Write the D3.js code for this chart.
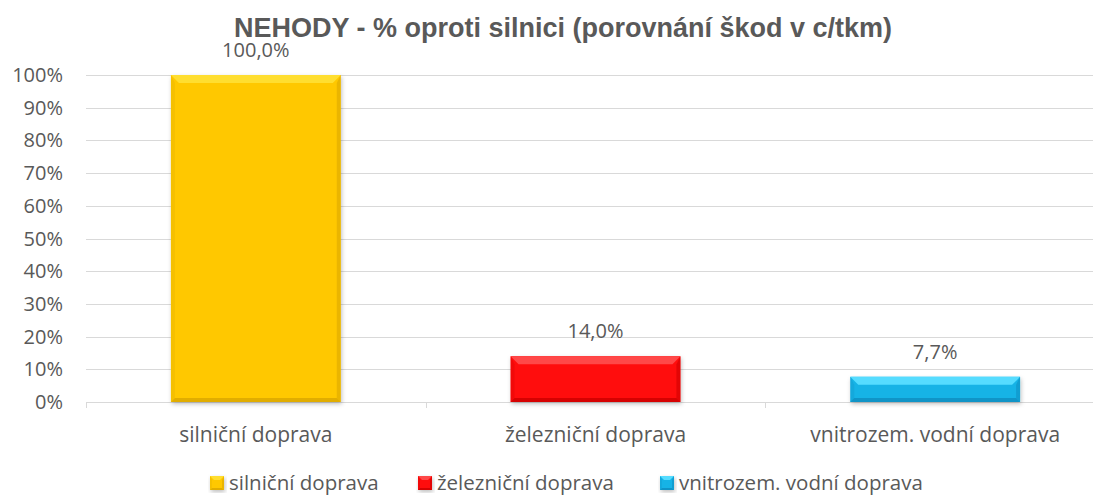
<!DOCTYPE html>
<html lang="cs">
<head>
<meta charset="utf-8">
<title>Nehody</title>
<script src="https://d3js.org/d3.v7.min.js"></script>
<style>
    body { margin: 0; background: white; }
    text { font-family: 'Open Sans', sans-serif; fill: #595959; }
    .title { font-family: 'Liberation Sans', Arial, sans-serif; font-weight: bold; font-size: 27px; }
    .grid line { stroke: #d9d9d9; stroke-width: 1; }
</style>
</head>
<body>
<div id="container"></div>
<script>
// data
var categories = ["silniční doprava", "železniční doprava", "vnitrozem. vodní doprava"];
var values = [100.0, 14.0, 7.7];
var valueLabels = ["100,0%", "14,0%", "7,7%"];
var yTicks = [0, 10, 20, 30, 40, 50, 60, 70, 80, 90, 100];
// body / light edge / dark edge
var barColors = [
  ["#ffc800", "#ffde30", "#d9a600"],
  ["#ff0808", "#ff4848", "#cc0000"],
  ["#19b3e6", "#55dcff", "#0f8cbf"]
];

var w = 1093, h = 496;
var svg = d3.select("div#container").append("svg")
    .attr("width", w).attr("height", h);

var mLeft = 86, mRight = 1105, mTop = 75, mBottom = 402;

var x = d3.scaleBand().domain(categories).range([mLeft, mRight]).paddingInner(0.5).paddingOuter(0.25);
var xb = d3.scaleBand().domain(categories).range([mLeft, mRight]); // full bands for ticks
var y = d3.scaleLinear().domain([0, 100]).range([mBottom, mTop]);

// title
svg.append("text").attr("class", "title")
  .attr("x", 563).attr("y", 37).attr("text-anchor", "middle")
  .text("NEHODY - % oproti silnici (porovnání škod v c/tkm)");

// grid
var grid = svg.append("g").attr("class", "grid");
grid.selectAll("line").data(yTicks.slice(1)).enter().append("line")
  .attr("x1", mLeft).attr("x2", w)
  .attr("y1", function(d){ return Math.round(y(d)) + 0.5; })
  .attr("y2", function(d){ return Math.round(y(d)) + 0.5; });

// y labels
svg.selectAll(".ylab").data(yTicks).enter().append("text")
  .attr("class", "ylab")
  .attr("x", 63).attr("y", function(d){ return y(d) + 7; })
  .attr("text-anchor", "end").style("font-size", "20px")
  .text(function(d){ return d + "%"; });

// x axis line + ticks
svg.append("line").attr("x1", mLeft).attr("x2", w)
  .attr("y1", mBottom + 0.5).attr("y2", mBottom + 0.5)
  .attr("stroke", "#d9d9d9");
svg.selectAll(".xtick").data(categories).enter().append("line")
  .attr("x1", function(d){ return Math.round(xb(d)) + 0.5; })
  .attr("x2", function(d){ return Math.round(xb(d)) + 0.5; })
  .attr("y1", mBottom).attr("y2", mBottom + 6)
  .attr("stroke", "#d9d9d9");

svg.selectAll(".xlab").data(categories).enter().append("text")
  .attr("x", function(d){ return x(d) + x.bandwidth() / 2; })
  .attr("y", 442).attr("text-anchor", "middle").style("font-size", "21px")
  .text(function(d){ return d; });

// shadow filter
var defs = svg.append("defs");
var f = defs.append("filter").attr("id", "sh").attr("x", "-10%").attr("y", "-10%").attr("width", "130%").attr("height", "130%");
f.append("feDropShadow").attr("dx", 1).attr("dy", 2).attr("stdDeviation", 2).attr("flood-color", "#000").attr("flood-opacity", 0.25);

// bevelled box
function bevelBox(g, x0, y0, bw, bh, c, b) {
  b = Math.min(b, bh / 2);
  var x1 = x0 + bw, y1 = y0 + bh;
  g.append("rect").attr("x", x0).attr("y", y0).attr("width", bw).attr("height", bh)
    .attr("fill", c[0]).attr("filter", "url(#sh)");
  // top edge
  g.append("path").attr("fill", c[1])
    .attr("d", "M" + x0 + "," + y0 + "L" + x1 + "," + y0 + "L" + (x1 - b) + "," + (y0 + b) + "L" + (x0 + b) + "," + (y0 + b) + "Z");
  // left edge
  g.append("path").attr("fill", c[2]).attr("opacity", 0.25)
    .attr("d", "M" + x0 + "," + y0 + "L" + (x0 + b * 0.5) + "," + (y0 + b) + "L" + (x0 + b * 0.5) + "," + (y1 - b * 0.5) + "L" + x0 + "," + y1 + "Z");
  // right edge
  g.append("path").attr("fill", c[2]).attr("opacity", 0.55)
    .attr("d", "M" + x1 + "," + y0 + "L" + x1 + "," + y1 + "L" + (x1 - b * 0.5) + "," + (y1 - b * 0.5) + "L" + (x1 - b * 0.5) + "," + (y0 + b) + "Z");
  // bottom edge
  g.append("path").attr("fill", c[2]).attr("opacity", 0.8)
    .attr("d", "M" + x0 + "," + y1 + "L" + (x0 + b * 0.5) + "," + (y1 - b * 0.5) + "L" + (x1 - b * 0.5) + "," + (y1 - b * 0.5) + "L" + x1 + "," + y1 + "Z");
}

var bars = svg.append("g");
categories.forEach(function(cat, i) {
  var g = bars.append("g");
  bevelBox(g, x(cat), y(values[i]), x.bandwidth(), y(0) - y(values[i]), barColors[i], 8);
});

// value labels
svg.selectAll(".vlab").data(categories).enter().append("text")
  .attr("x", function(d){ return x(d) + x.bandwidth() / 2; })
  .attr("y", function(d, i){ return y(values[i]) - 18; })
  .attr("text-anchor", "middle").style("font-size", "20px")
  .text(function(d, i){ return valueLabels[i]; });

// legend
var legX = [210, 418, 660];
var leg = svg.append("g");
categories.forEach(function(cat, i) {
  var g = leg.append("g");
  bevelBox(g, legX[i], 476, 14, 14, barColors[i], 4);
  g.append("text").attr("x", legX[i] + 19).attr("y", 490).style("font-size", "20.5px").text(cat);
});
</script>
</body>
</html>
